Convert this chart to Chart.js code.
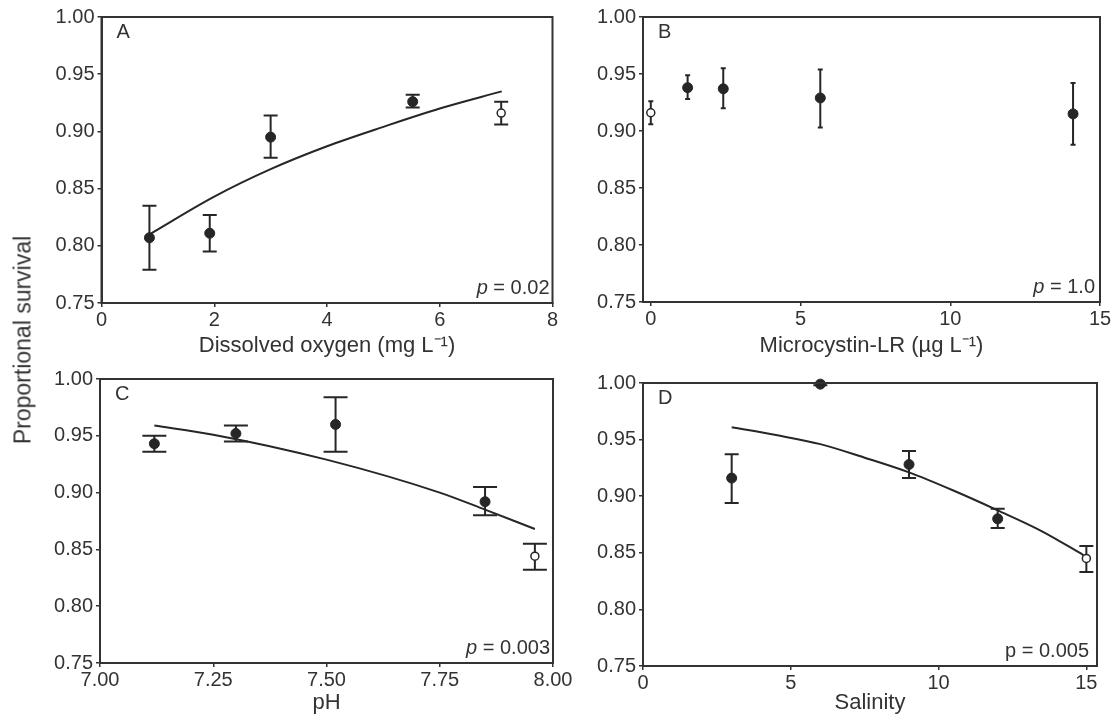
<!DOCTYPE html>
<html>
<head>
<meta charset="utf-8">
<script src="https://cdn.jsdelivr.net/npm/chart.js@4/dist/chart.umd.min.js"></script>
<style>
  html, body { margin: 0; padding: 0; background: #fff; }
  #wrap { position: relative; width: 1113px; height: 716px; overflow: hidden; }
  #wrap canvas { position: absolute; left: 0; top: 0; }
  #ytitle {
    position: absolute; left: 23px; top: 340px;
    transform: translate(-50%, -50%) rotate(-90deg);
    font: 23px "Liberation Sans", Arial, sans-serif; color: #333; white-space: nowrap;
  }
</style>
</head>
<body>
<div id="wrap">
  <canvas id="cA" width="1113" height="716"></canvas>
  <canvas id="cB" width="1113" height="716"></canvas>
  <canvas id="cC" width="1113" height="716"></canvas>
  <canvas id="cD" width="1113" height="716"></canvas>
  <div id="ytitle">Proportional survival</div>
</div>
<script>
const ink = '#262626';
const textInk = '#333';
const FACE = '"Liberation Sans", Arial, sans-serif';

// shared y axis
const yTicks = [0.75, 0.80, 0.85, 0.90, 0.95, 1.00];

// A - dissolved oxygen
const doX  = [0.85, 1.92, 3.0, 5.52];
const doY  = [0.807, 0.811, 0.895, 0.926];
const doLo = [0.779, 0.795, 0.877, 0.921];
const doHi = [0.835, 0.827, 0.914, 0.932];
const doCtrlX = [7.09], doCtrlY = [0.916], doCtrlLo = [0.906], doCtrlHi = [0.926];
const doFitX = [0.85, 2, 3, 4, 5, 6, 7.1];
const doFitY = [0.810, 0.843, 0.867, 0.887, 0.904, 0.920, 0.935];
const doTicks = [0, 2, 4, 6, 8];

// B - microcystin-LR
const mcX  = [1.23, 2.42, 5.66, 14.1];
const mcY  = [0.938, 0.937, 0.929, 0.915];
const mcLo = [0.928, 0.920, 0.903, 0.888];
const mcHi = [0.949, 0.955, 0.954, 0.942];
const mcCtrlX = [0], mcCtrlY = [0.916], mcCtrlLo = [0.906], mcCtrlHi = [0.926];
const mcTicks = [0, 5, 10, 15];

// C - pH
const phX  = [7.12, 7.30, 7.52, 7.85];
const phY  = [0.943, 0.952, 0.960, 0.892];
const phLo = [0.936, 0.945, 0.936, 0.880];
const phHi = [0.950, 0.959, 0.984, 0.905];
const phCtrlX = [7.96], phCtrlY = [0.844], phCtrlLo = [0.832], phCtrlHi = [0.855];
const phFitX = [7.12, 7.25, 7.5, 7.75, 7.85, 7.96];
const phFitY = [0.959, 0.951, 0.929, 0.900, 0.885, 0.868];
const phTicks = [7.00, 7.25, 7.50, 7.75, 8.00];

// D - salinity
const salX  = [3, 6, 9, 12];
const salY  = [0.916, 0.999, 0.928, 0.880];
const salLo = [0.894, 0.998, 0.916, 0.872];
const salHi = [0.937, 1.000, 0.940, 0.889];
const salCtrlX = [15], salCtrlY = [0.845], salCtrlLo = [0.833], salCtrlHi = [0.856];
const salFitX = [3, 4.5, 6, 7.5, 9, 10.5, 12, 13.5, 14.9];
const salFitY = [0.961, 0.954, 0.946, 0.934, 0.921, 0.905, 0.8875, 0.869, 0.848];
const salTicks = [0, 5, 10, 15];

const pts = (xs, ys) => xs.map((x, i) => ({ x: x, y: ys[i] }));

function filled(xs, ys, lo, hi, cap) {
  return { data: pts(xs, ys), errLo: lo, errHi: hi, cap: cap, pointRadius: 5,
    backgroundColor: ink, borderColor: ink, borderWidth: 1, clip: false };
}
function open(xs, ys, lo, hi, cap) {
  return { data: pts(xs, ys), errLo: lo, errHi: hi, cap: cap, pointRadius: 4,
    backgroundColor: '#fff', borderColor: ink, borderWidth: 1.5, clip: false };
}
function fit(xs, ys) {
  return { data: pts(xs, ys), showLine: true, pointRadius: 0, borderColor: ink,
    borderWidth: 2, tension: 0.3, cubicInterpolationMode: 'monotone', clip: false };
}

// error bars under the points, frame box and panel notes on top
const frame = {
  id: 'frame',
  beforeDatasetsDraw(chart) {
    const ctx = chart.ctx, xs = chart.scales.x, ys = chart.scales.y;
    ctx.save();
    ctx.strokeStyle = ink;
    ctx.lineWidth = 2;
    chart.data.datasets.forEach(ds => {
      if (!ds.errLo) return;
      ds.data.forEach((p, j) => {
        const x = xs.getPixelForValue(p.x);
        const y1 = ys.getPixelForValue(ds.errLo[j]);
        const y2 = ys.getPixelForValue(ds.errHi[j]);
        ctx.beginPath();
        ctx.moveTo(x, y1); ctx.lineTo(x, y2);
        ctx.moveTo(x - ds.cap, y1); ctx.lineTo(x + ds.cap, y1);
        ctx.moveTo(x - ds.cap, y2); ctx.lineTo(x + ds.cap, y2);
        ctx.stroke();
      });
    });
    ctx.restore();
  },
  afterDraw(chart, args, opts) {
    const ctx = chart.ctx, a = chart.chartArea;
    ctx.save();
    ctx.strokeStyle = '#333';
    ctx.lineWidth = 2;
    ctx.strokeRect(a.left, a.top, a.right - a.left, a.bottom - a.top);
    ctx.fillStyle = textInk;
    ctx.textBaseline = 'alphabetic';
    ctx.font = '20px ' + FACE;
    ctx.textAlign = 'left';
    ctx.fillText(opts.letter, a.left + 15, a.top + 21);
    ctx.textAlign = 'right';
    const rx = a.right - opts.pRight, by = a.bottom - 9;
    ctx.fillText(opts.value, rx, by);
    const w = ctx.measureText(opts.value).width;
    ctx.font = (opts.italic ? 'italic ' : '') + '20px ' + FACE;
    ctx.fillText('p', rx - w, by);
    ctx.restore();
  }
};

function panel(id, area, xTitle, xMin, xMax, xTicks, digits, datasets, note) {
  const yw = 70;
  const xh = area.tc - area.b + 13.2;
  const tickFont = { family: FACE, size: 20 };
  new Chart(document.getElementById(id), {
    type: 'scatter',
    data: { datasets: datasets },
    options: {
      responsive: false,
      animation: false,
      events: [],
      layout: { padding: { left: area.l - yw, top: area.t, right: 1113 - area.r, bottom: 716 - area.b - xh } },
      plugins: { legend: { display: false }, tooltip: { enabled: false }, frame: note },
      scales: {
        x: {
          type: 'linear', min: xMin, max: xMax,
          afterBuildTicks: s => { s.ticks = xTicks.map(v => ({ value: v })); },
          afterFit: s => { s.height = xh; s.paddingLeft = 0; s.paddingRight = 0; },
          grid: { drawOnChartArea: false, tickLength: 4, color: '#333', lineWidth: 1.5 },
          border: { color: '#333', width: 2 },
          ticks: { font: tickFont, color: textInk, padding: 1, maxRotation: 0, autoSkip: false,
                   callback: v => v.toFixed(digits) },
          title: { display: true, text: xTitle, color: textInk, padding: 0,
                   font: { family: FACE, size: 22 } }
        },
        y: {
          type: 'linear', min: 0.75, max: 1.0,
          afterBuildTicks: s => { s.ticks = yTicks.map(v => ({ value: v })); },
          afterFit: s => { s.width = yw; s.paddingTop = 0; s.paddingBottom = 0; },
          grid: { drawOnChartArea: false, tickLength: 4, color: '#333', lineWidth: 1.5 },
          border: { color: '#333', width: 2 },
          ticks: { font: tickFont, color: textInk, padding: 3, autoSkip: false,
                   callback: v => v.toFixed(2) }
        }
      }
    },
    plugins: [frame]
  });
}

panel('cA', { l: 101.5, t: 17, r: 552.5, b: 303, tc: 346 },
  'Dissolved oxygen (mg L\u207B\u00B9)', 0, 8, doTicks, 0, [
    fit(doFitX, doFitY),
    filled(doX, doY, doLo, doHi, 7),
    open(doCtrlX, doCtrlY, doCtrlLo, doCtrlHi, 7)
  ], { letter: 'A', value: ' = 0.02', italic: true, pRight: 3 });

panel('cB', { l: 643, t: 17, r: 1100, b: 302, tc: 346 },
  'Microcystin-LR (\u00B5g L\u207B\u00B9)', -0.26, 15, mcTicks, 0, [
    filled(mcX, mcY, mcLo, mcHi, 2.5),
    open(mcCtrlX, mcCtrlY, mcCtrlLo, mcCtrlHi, 2.5)
  ], { letter: 'B', value: ' = 1.0', italic: true, pRight: 5 });

panel('cC', { l: 100, t: 379, r: 553, b: 663, tc: 703 },
  'pH', 7, 8, phTicks, 2, [
    fit(phFitX, phFitY),
    filled(phX, phY, phLo, phHi, 12),
    open(phCtrlX, phCtrlY, phCtrlLo, phCtrlHi, 12)
  ], { letter: 'C', value: ' = 0.003', italic: true, pRight: 3 });

panel('cD', { l: 643, t: 383, r: 1097, b: 666, tc: 703 },
  'Salinity', 0, 15.36, salTicks, 0, [
    fit(salFitX, salFitY),
    filled(salX, salY, salLo, salHi, 7),
    open(salCtrlX, salCtrlY, salCtrlLo, salCtrlHi, 7)
  ], { letter: 'D', value: ' = 0.005', italic: false, pRight: 8 });
</script>
</body>
</html>
